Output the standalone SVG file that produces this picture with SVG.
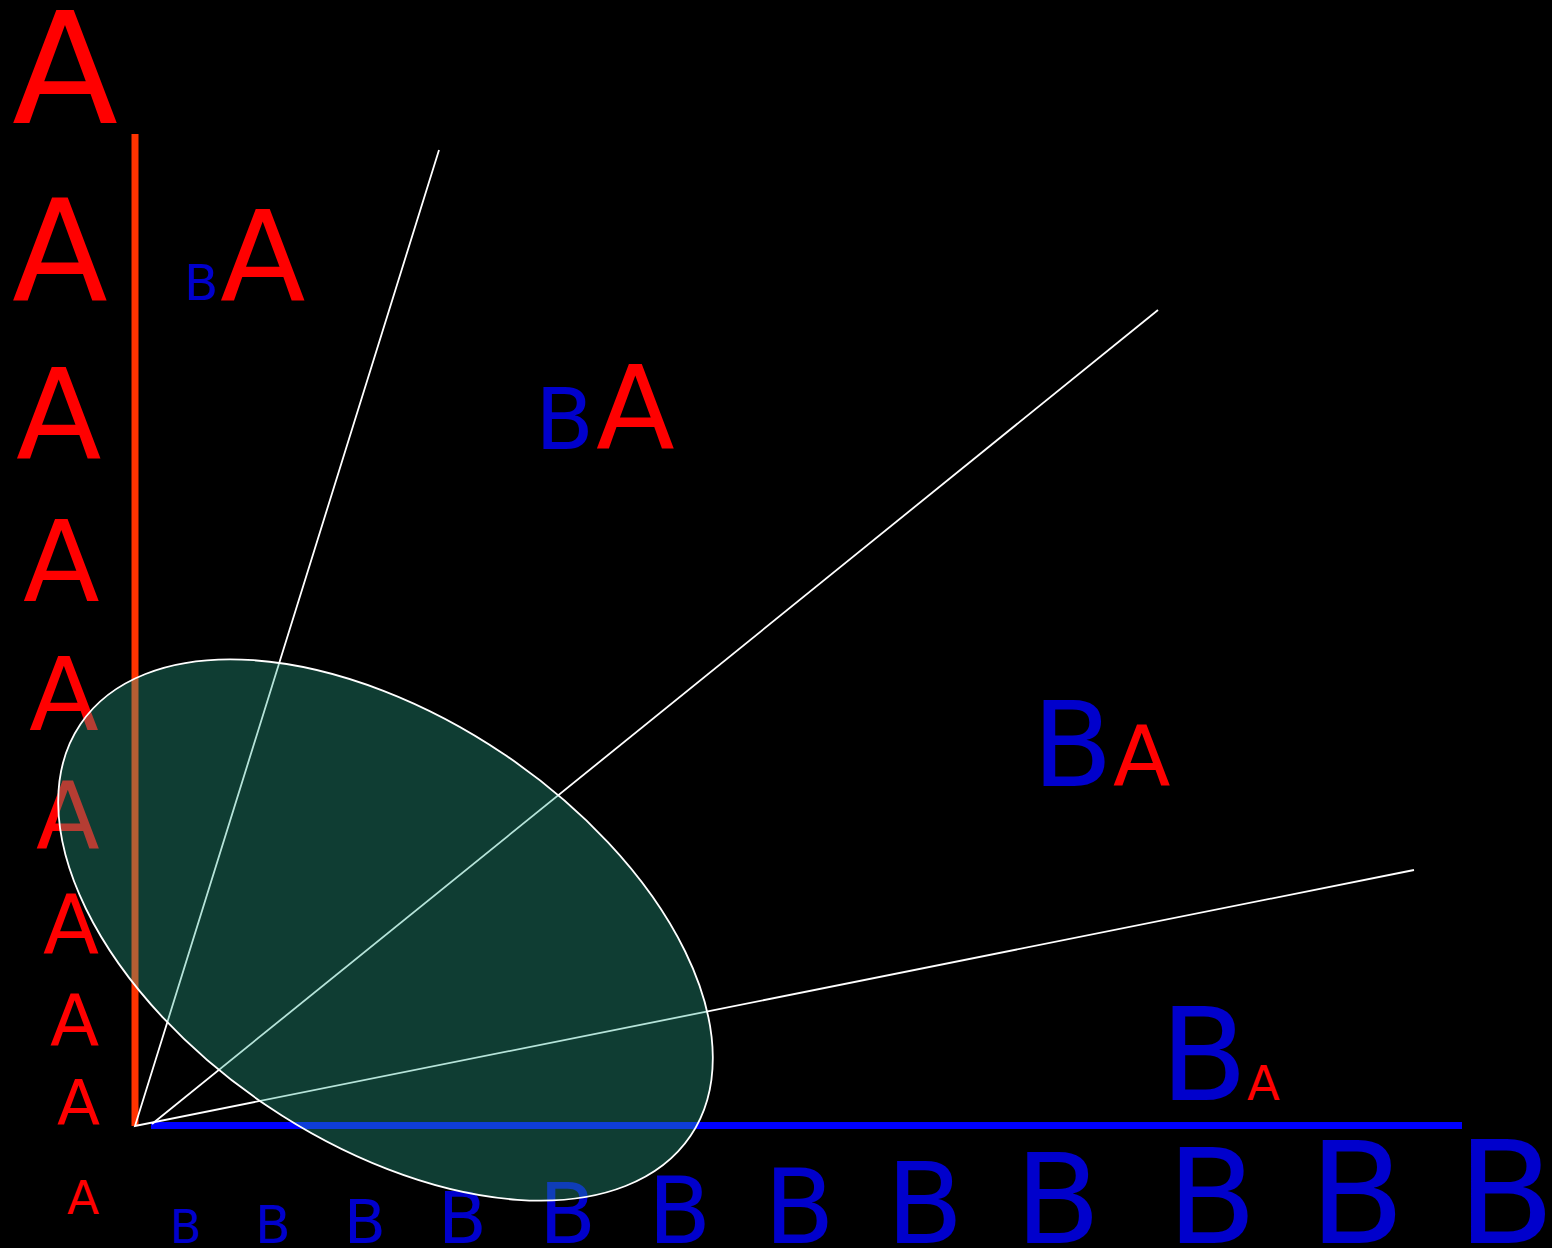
<svg xmlns="http://www.w3.org/2000/svg" width="1552" height="1248" viewBox="0 0 1552 1248">
<style>
text{font-family:"DejaVu Sans","Liberation Sans",sans-serif}
.a{fill:#ff0000}
.b{fill:#0000cc}
.ray{stroke:#ffffff;stroke-width:1.8;fill:none}
</style>
<rect x="0" y="0" width="1552" height="1248" fill="#000000"/>
<g id="left-labels">
<text class="a" x="12" y="123" font-size="155">A</text>
<text class="a" x="12" y="300" font-size="140">A</text>
<text class="a" x="16" y="458" font-size="125">A</text>
<text class="a" x="23" y="601" font-size="112">A</text>
<text class="a" x="29" y="730" font-size="102">A</text>
<text class="a" x="36" y="848" font-size="93">A</text>
<text class="a" x="43" y="953" font-size="82">A</text>
<text class="a" x="50" y="1045" font-size="72">A</text>
<text class="a" x="57" y="1125" font-size="63">A</text>
<text class="a" x="67" y="1214" font-size="47">A</text>
</g>
<g id="bottom-labels">
<text class="b" x="170" y="1243" font-size="46">B</text>
<text class="b" x="255" y="1243" font-size="52">B</text>
<text class="b" x="344" y="1243" font-size="61">B</text>
<text class="b" x="438" y="1243" font-size="71">B</text>
<text class="b" x="539" y="1243" font-size="83">B</text>
<text class="b" x="648" y="1243" font-size="92">B</text>
<text class="b" x="764" y="1243" font-size="103">B</text>
<text class="b" x="886" y="1243" font-size="113">B</text>
<text class="b" x="1015" y="1243" font-size="125">B</text>
<text class="b" x="1167" y="1243" font-size="131">B</text>
<text class="b" x="1309" y="1243" font-size="140">B</text>
<text class="b" x="1457" y="1243" font-size="143">B</text>
</g>
<g id="axes">
<line x1="135" y1="134" x2="135" y2="1126" stroke="#ff3300" stroke-width="7"/>
<line x1="151" y1="1125.5" x2="1462" y2="1125.5" stroke="#0000ff" stroke-width="7"/>
</g>
<g id="connectors">
<path class="ray" d="M439,150 L135,1126 L1414,870"/>
<line class="ray" x1="152" y1="1124" x2="1158" y2="310"/>
</g>
<g id="label-1">
<text class="b" x="184" y="300" font-size="50">B</text>
<text class="a" x="220" y="300" font-size="125">A</text>
</g>
<g id="label-2">
<text class="b" x="535" y="449" font-size="86">B</text>
<text class="a" x="596" y="449" font-size="115">A</text>
</g>
<g id="label-3">
<text class="b" x="1032" y="786" font-size="118">B</text>
<text class="a" x="1113" y="786" font-size="84">A</text>
</g>
<g id="label-4">
<text class="b" x="1160" y="1100" font-size="128">B</text>
<text class="a" x="1247" y="1100" font-size="48">A</text>
</g>
<g id="ellipse">
<ellipse cx="385.5" cy="930" rx="368" ry="212" transform="rotate(34 385.5 930)" fill="#2bae92" fill-opacity="0.35" stroke="#ffffff" stroke-width="1.8"/>
</g>
</svg>
